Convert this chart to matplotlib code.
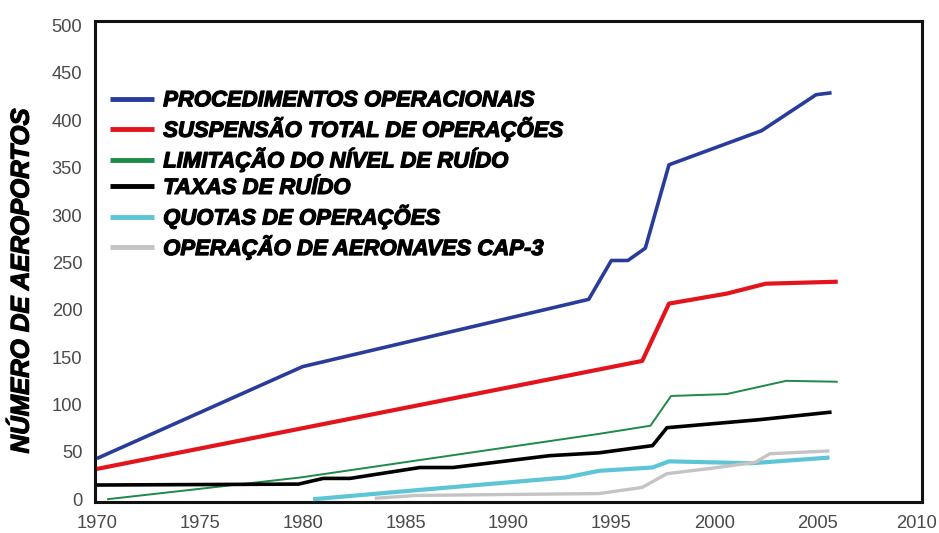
import matplotlib
matplotlib.use("Agg")
import matplotlib.pyplot as plt
import matplotlib.patheffects as pe
from matplotlib.transforms import ScaledTranslation

# ---- data ----
labels = [
    "PROCEDIMENTOS OPERACIONAIS",
    "SUSPENSÃO TOTAL DE OPERAÇÕES",
    "LIMITAÇÃO DO NÍVEL DE RUÍDO",
    "TAXAS DE RUÍDO",
    "QUOTAS DE OPERAÇÕES",
    "OPERAÇÃO DE AERONAVES CAP-3",
]

proc_x = [1970, 1980, 1993.9, 1995.0, 1995.8, 1996.65, 1997.8, 2002.3, 2004.95, 2005.7]
proc_y = [43, 140, 211, 252, 252, 265, 353, 389, 427, 429]

susp_x = [1970, 1996.5, 1997.8, 2000.6, 2002.5, 2006.0]
susp_y = [32, 146, 206.5, 217, 227.5, 229.6]

lim_x = [1970.5, 1979.9, 1994.4, 1996.9, 1997.9, 2000.6, 2003.5, 2006.0]
lim_y = [0, 23, 69, 77.6, 109, 111, 125, 124]

tax_x = [1970, 1979.8, 1981.0, 1982.3, 1985.7, 1987.3, 1992.0, 1994.4, 1997.0, 1997.7, 2002.2, 2005.7]
tax_y = [15, 16, 22, 22, 33.5, 33.5, 46, 49, 56.6, 75.5, 84, 92]

quo_x = [1980.5, 1985.5, 1992.8, 1994.4, 1997.0, 1997.8, 2001.8, 2005.6]
quo_y = [0, 9.5, 23, 30, 33.5, 40, 38, 44]

cap_x = [1983.5, 1985.5, 1994.4, 1996.5, 1997.7, 1999.8, 2002.0, 2002.7, 2005.6]
cap_y = [1, 4, 6, 12.5, 27, 32.5, 39, 48, 51]

x_ticks = [1970, 1975, 1980, 1985, 1990, 1995, 2000, 2005, 2010]
y_ticks = [0, 50, 100, 150, 200, 250, 300, 350, 400, 450, 500]

# ---- figure ----
fig = plt.figure(figsize=(9.39, 5.33), dpi=100)
ax = fig.add_axes([0.101, 0.058, 0.881, 0.903])

series = [
    (proc_x, proc_y, "#2a3c99", 2.6),
    (susp_x, susp_y, "#e3141b", 3.0),
    (lim_x, lim_y, "#1e8a48", 1.4),
    (tax_x, tax_y, "#000000", 2.6),
    (quo_x, quo_y, "#5cc6d6", 3.0),
    (cap_x, cap_y, "#c4c4c4", 2.4),
]
for (xs, ys, c, lw), lab in zip(series, labels):
    ax.plot(xs, ys, color=c, lw=lw, label=lab, solid_capstyle="butt", zorder=3)

ax.set_xlim(1969.9, 2010.1)
ax.set_ylim(-3, 505)
ax.set_xticks(x_ticks)
ax.set_yticks(y_ticks)
ax.tick_params(length=0, labelsize=13.2, labelcolor="#4a4a4a",
               labelfontfamily="Liberation Sans")
ax.tick_params(axis="x", pad=9)
ax.tick_params(axis="y", pad=9)
for s in ax.spines.values():
    s.set_linewidth(2.2)
    s.set_color("#111111")

# nudge the last x tick label inward so it stays inside the canvas
last = ax.get_xticklabels()[-1]
last.set_transform(last.get_transform() + ScaledTranslation(-4 / 100, 0, fig.dpi_scale_trans))

heavy = [pe.withStroke(linewidth=0.9, foreground="black")]

ax.set_ylabel("NÚMERO DE AEROPORTOS", fontsize=18.5, fontweight="bold",
              fontstyle="italic", family="Liberation Sans", path_effects=heavy)
ax.yaxis.set_label_coords(-0.074, 0.46)

leg = ax.legend(loc="upper left", bbox_to_anchor=(-0.006, 0.897), frameon=False,
                handlelength=2.0, handletextpad=0.42, labelspacing=0.25,
                prop={"family": "Liberation Sans", "weight": "bold",
                      "style": "italic", "size": 15.9})
for t in leg.get_texts():
    t.set_path_effects(heavy)
for h in leg.get_lines():
    h.set_linewidth(3.5)

fig.savefig("out.png", dpi=100)
